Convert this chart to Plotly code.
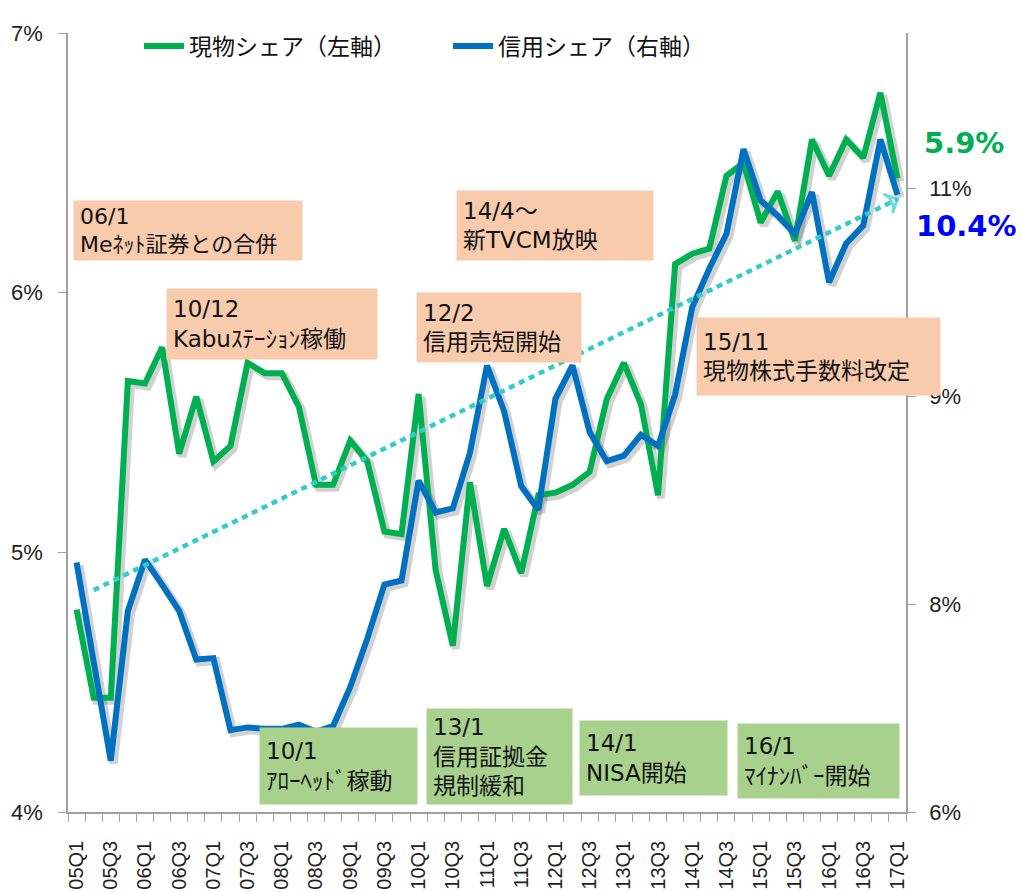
import plotly.graph_objects as go

# quarters on the x axis
quarters = [
    "05Q1", "05Q2", "05Q3", "05Q4", "06Q1", "06Q2", "06Q3", "06Q4",
    "07Q1", "07Q2", "07Q3", "07Q4", "08Q1", "08Q2", "08Q3", "08Q4",
    "09Q1", "09Q2", "09Q3", "09Q4", "10Q1", "10Q2", "10Q3", "10Q4",
    "11Q1", "11Q2", "11Q3", "11Q4", "12Q1", "12Q2", "12Q3", "12Q4",
    "13Q1", "13Q2", "13Q3", "13Q4", "14Q1", "14Q2", "14Q3", "14Q4",
    "15Q1", "15Q2", "15Q3", "15Q4", "16Q1", "16Q2", "16Q3", "16Q4",
    "17Q1",
]

# 現物シェア (left axis, %)
spot_share = [
    4.78, 4.44, 4.44, 5.66, 5.65, 5.79, 5.38, 5.60,
    5.35, 5.41, 5.73, 5.69, 5.69, 5.56, 5.26, 5.26,
    5.43, 5.35, 5.08, 5.07, 5.61, 4.93, 4.64, 5.27,
    4.87, 5.09, 4.92, 5.22, 5.23, 5.26, 5.31, 5.59,
    5.73, 5.57, 5.22, 6.11, 6.15, 6.17, 6.45, 6.50,
    6.27, 6.39, 6.20, 6.59, 6.45, 6.59, 6.52, 6.77,
    6.44,
]

# 信用シェア (right axis, %)
margin_share = [
    7.80, 7.08, 6.37, 7.45, 7.82, 7.64, 7.45, 7.10,
    7.11, 6.59, 6.61, 6.60, 6.60, 6.63, 6.58, 6.62,
    6.90, 7.25, 7.64, 7.67, 8.39, 8.16, 8.19, 8.59,
    9.22, 8.89, 8.35, 8.18, 8.98, 9.22, 8.74, 8.53,
    8.57, 8.72, 8.64, 9.01, 9.64, 9.92, 10.17, 10.78,
    10.41, 10.30, 10.17, 10.47, 9.82, 10.10, 10.23, 10.85,
    10.45,
]

# hand-drawn trend arrow (right axis)
trend_x = ["05Q2", "17Q1"]
trend_y = [7.60, 10.42]

left_ticks = [4, 5, 6, 7]
left_labels = ["4%", "5%", "6%", "7%"]
right_ticks = [6, 7.5, 9, 10.5]
right_labels = ["6%", "8%", "9%", "11%"]

last_labels = ["5.9%", "10.4%"]

# event call-outs: text, box in px (left, top, right, bottom), kind
events = [
    ("06/1<br>Meﾈｯﾄ証券との合併", (73, 200, 301, 259), "o"),
    ("10/12<br>Kabuｽﾃｰｼｮﾝ稼働", (166, 288, 376, 358), "o"),
    ("14/4～<br>新TVCM放映", (456, 190, 652, 259), "o"),
    ("12/2<br>信用売短開始", (416, 292, 580, 361), "o"),
    ("15/11<br>現物株式手数料改定", (696, 317, 939, 394), "o"),
    ("10/1<br>ｱﾛｰﾍｯﾄﾞ稼動", (259, 727, 416, 803), "g"),
    ("13/1<br>信用証拠金<br>規制緩和", (426, 708, 571, 803), "g"),
    ("14/1<br>NISA開始", (579, 720, 726, 794), "g"),
    ("16/1<br>ﾏｲﾅﾝﾊﾞｰ開始", (737, 723, 898, 797), "g"),
]

GREEN = "#00B050"
BLUE = "#0070C0"
TREND = "#33CCCC"
BOX = {"o": "#F8CBAD", "g": "#A9D18E"}
AXIS = "#A0A0A0"

L, T, W, H = 68, 33, 838, 779
idx = list(range(len(quarters)))
xr = [-0.5, len(quarters) - 0.5]
yl = [4, 7]
yr = [6, 6 + 779 / 208 * 1.5]

def px(x):
    return (x - L) / W

def py(y):
    return (T + H - y) / H

fig = go.Figure()

# drop shadows, on invisible axes shifted a few pixels
shadow = dict(color="rgba(0,0,0,0.18)", width=8)
fig.add_trace(go.Scatter(x=idx, y=spot_share, xaxis="x", yaxis="y", mode="lines",
                         line=shadow, showlegend=False, hoverinfo="skip"))
fig.add_trace(go.Scatter(x=idx, y=margin_share, xaxis="x", yaxis="y2", mode="lines",
                         line=shadow, showlegend=False, hoverinfo="skip"))

fig.add_trace(go.Scatter(x=idx, y=spot_share, xaxis="x2", yaxis="y3", mode="lines",
                         name="現物シェア（左軸）", line=dict(color=GREEN, width=6)))
fig.add_trace(go.Scatter(x=idx, y=margin_share, xaxis="x2", yaxis="y4", mode="lines",
                         name="信用シェア（右軸）", line=dict(color=BLUE, width=6)))
fig.add_trace(go.Scatter(
    x=[quarters.index(q) for q in trend_x], y=trend_y, xaxis="x2", yaxis="y4",
    mode="lines+markers", showlegend=False, hoverinfo="skip",
    line=dict(color=TREND, width=4.5, dash="6px,5px"),
    marker=dict(symbol="arrow-wide-open", size=[0, 15], angleref="previous",
                color=TREND, line=dict(color=TREND, width=3)),
))

sx = 3 / (W / len(quarters))
sy = 3 / H
tickfont = dict(family="Liberation Sans", size=22, color="#222")

fig.update_layout(
    width=1022, height=892,
    margin=dict(l=L, r=1022 - L - W, t=T, b=892 - T - H, autoexpand=False),
    paper_bgcolor="white", plot_bgcolor="white",
    xaxis=dict(range=[xr[0] - sx, xr[1] - sx], visible=False, automargin=False),
    yaxis=dict(range=[yl[0] + sy * (yl[1] - yl[0]), yl[1] + sy * (yl[1] - yl[0])],
               visible=False, automargin=False),
    yaxis2=dict(range=[yr[0] + sy * (yr[1] - yr[0]), yr[1] + sy * (yr[1] - yr[0])],
                overlaying="y", visible=False, automargin=False),
    xaxis2=dict(
        overlaying="x", side="bottom", anchor="y3", range=xr, automargin=False,
        tickmode="array", tickvals=idx[::2], ticktext=quarters[::2], tickangle=-90,
        ticks="", ticklabelstandoff=19, tickfont=dict(family="Liberation Sans", size=20, color="#222"),
        minor=dict(tick0=-0.5, dtick=1, ticks="outside", ticklen=8, tickcolor=AXIS, tickwidth=1),
        showline=True, linecolor=AXIS, linewidth=1.5, showgrid=False, zeroline=False,
    ),
    yaxis3=dict(
        overlaying="y", anchor="x2", side="left", range=yl, automargin=False,
        tickmode="array", tickvals=left_ticks, ticktext=left_labels,
        ticks="outside", ticklen=8, tickcolor=AXIS, ticklabelstandoff=11, tickfont=tickfont,
        showline=True, linecolor=AXIS, linewidth=1.5, showgrid=False, zeroline=False,
    ),
    yaxis4=dict(
        overlaying="y", anchor="x2", side="right", range=yr, automargin=False,
        tickmode="array", tickvals=right_ticks, ticktext=right_labels,
        ticks="outside", ticklen=8, tickcolor=AXIS, ticklabelstandoff=9, tickfont=tickfont,
        showline=True, linecolor=AXIS, linewidth=1.5, showgrid=False, zeroline=False,
    ),
    legend=dict(
        orientation="h", x=px(139), y=py(46), xanchor="left", yanchor="middle",
        font=dict(family="Noto Sans CJK JP", size=23, color="#111"),
        bgcolor="rgba(0,0,0,0)", entrywidth=254, itemwidth=40,
    ),
)

annotations = []
pad = 6
for text, (x0, y0, x1, y1), kind in events:
    annotations.append(dict(
        text=text, xref="paper", yref="paper", x=px(x0), y=py(y0),
        xanchor="left", yanchor="top", showarrow=False,
        width=x1 - x0 - 2 * pad, height=y1 - y0 - 2 * pad, borderpad=pad,
        align="left", valign="middle", bgcolor=BOX[kind],
        font=dict(family="DejaVu Sans, Noto Sans CJK JP", size=22 if x0 == 73 else 23, color="#111"),
    ))

annotations.append(dict(
    text="<b>%s</b>" % last_labels[0], xref="paper", yref="paper", x=px(964), y=py(143),
    xanchor="center", yanchor="middle", showarrow=False,
    font=dict(family="DejaVu Sans", size=29, color=GREEN),
))
annotations.append(dict(
    text="<b>%s</b>" % last_labels[1], xref="paper", yref="paper", x=px(966), y=py(226),
    xanchor="center", yanchor="middle", showarrow=False,
    font=dict(family="DejaVu Sans", size=29, color="#0000FF"),
))
fig.update_layout(annotations=annotations)

# the page's default body margin would push the figure 8px down and right
fig.write_html("out.html", config={"displayModeBar": False},
               post_script="document.body.style.margin='0';")
